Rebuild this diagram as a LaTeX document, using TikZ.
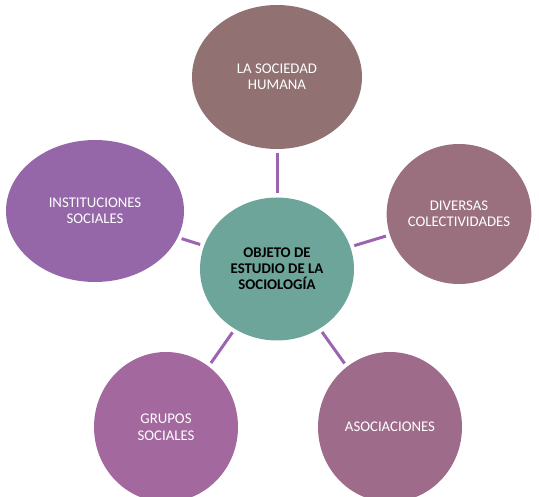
\documentclass[tikz,border=0pt]{standalone}
\usepackage{fontspec}
\setmainfont{Carlito}
\usepackage{tikz}
\usetikzlibrary{shapes.geometric, positioning}

\definecolor{topcol}{HTML}{917171}
\definecolor{rightcol}{HTML}{9A707E}
\definecolor{leftcol}{HTML}{9567A8}
\definecolor{midcol}{HTML}{6EA59A}
\definecolor{grupcol}{HTML}{A3699F}
\definecolor{asoccol}{HTML}{9F6B8B}
\definecolor{linkcol}{HTML}{9C64B0}

\begin{document}
\begin{tikzpicture}[x=1pt, y=-1pt,
    blob/.style={ellipse, inner sep=0pt, text=white, align=center,
                 font=\fontsize{14.8}{16.5}\selectfont},
    link/.style={draw=linkcol, line width=3pt, shorten >=4pt, shorten <=4pt}]
    \useasboundingbox (0,0) rectangle (539,497);

    \node[blob, fill=midcol, text=black, minimum width=154pt, minimum height=143pt,
          font=\bfseries\fontsize{14.8}{16}\selectfont] (objeto) at (277,269)
          {OBJETO DE\\ESTUDIO DE LA\\SOCIOLOGÍA};

    \node[blob, fill=topcol, minimum width=170pt, minimum height=144pt] (sociedad) at (277,77)
          {LA SOCIEDAD\\HUMANA};
    \node[blob, fill=leftcol, minimum width=178pt, minimum height=142pt] (instituciones) at (95,211)
          {INSTITUCIONES\\SOCIALES};
    \node[blob, fill=rightcol, minimum width=144pt, minimum height=140pt] (diversas) at (459,214)
          {DIVERSAS\\COLECTIVIDADES};
    \node[blob, fill=grupcol, minimum width=144pt, minimum height=150pt] (grupos) at (166,427)
          {GRUPOS\\SOCIALES};
    \node[blob, fill=asoccol, minimum width=144pt, minimum height=150pt] (asociaciones) at (390,427)
          {ASOCIACIONES};

    \path[link] (objeto) -- (sociedad);
    \path[link] (objeto) -- (instituciones);
    \path[link] (objeto) -- (diversas);
    \path[link] (objeto) -- (grupos);
    \path[link] (objeto) -- (asociaciones);

\end{tikzpicture}
\end{document}
